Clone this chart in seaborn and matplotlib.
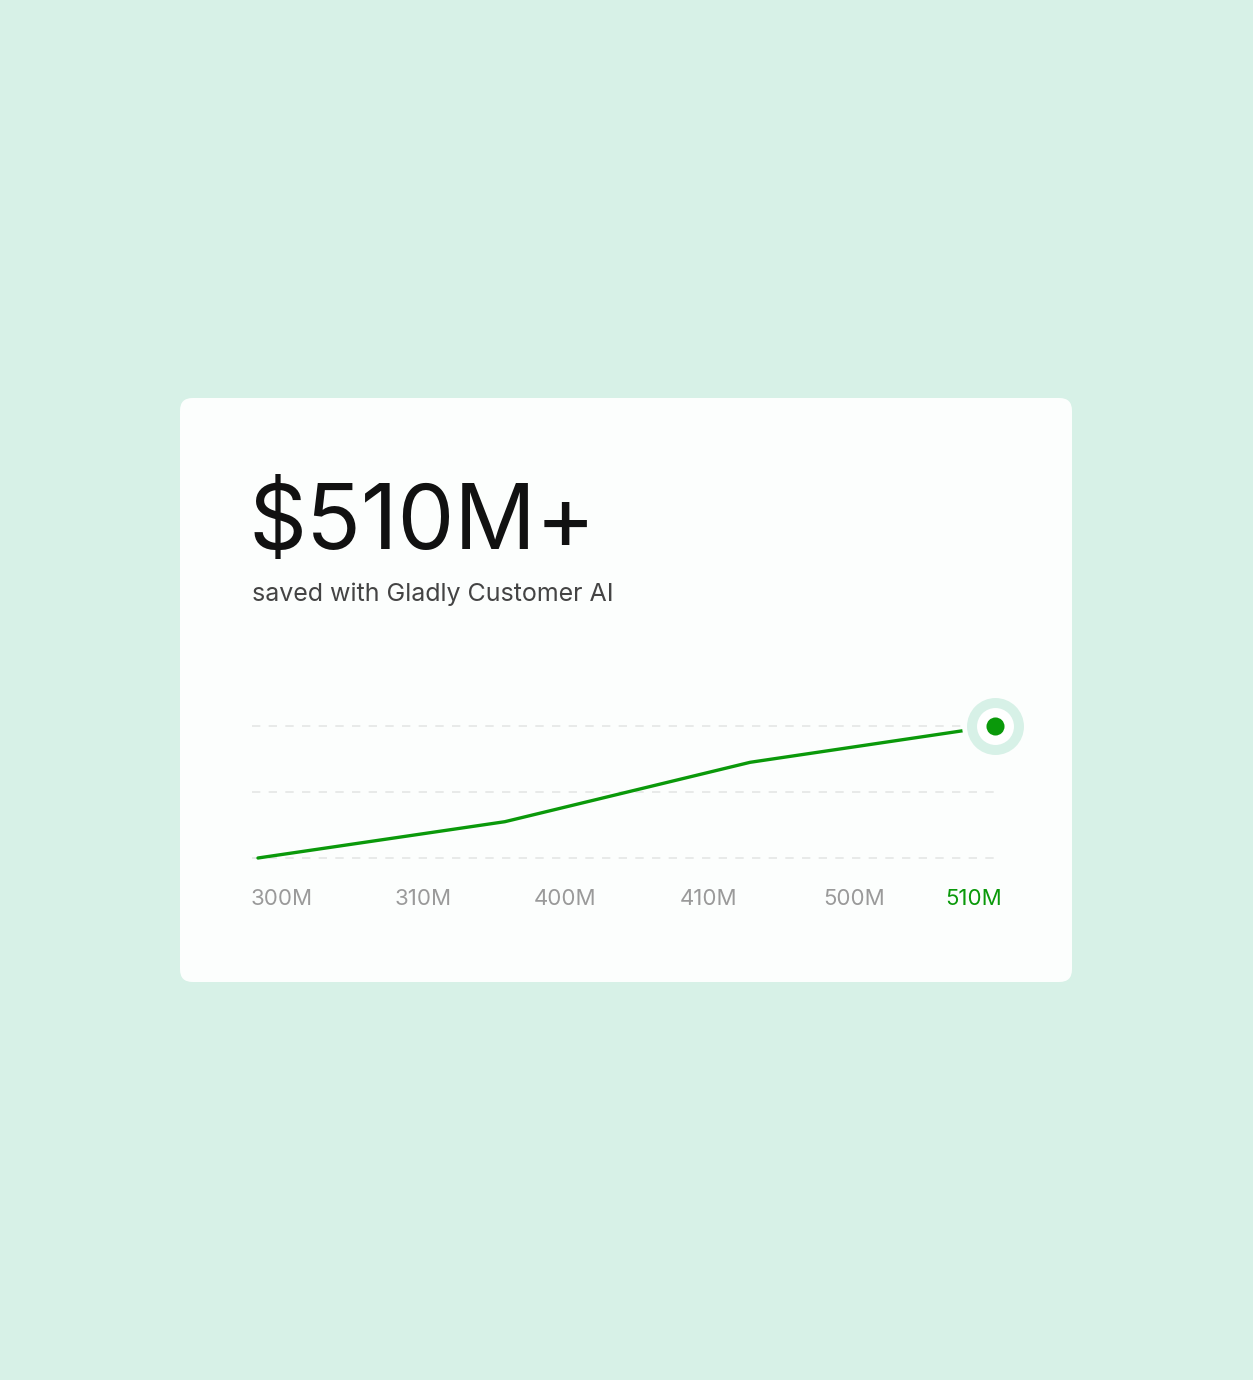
import matplotlib
matplotlib.use("Agg")
import matplotlib.pyplot as plt
from matplotlib.patches import FancyBboxPatch
import seaborn as sns
import pandas as pd

# data
progress = [0.008, 0.338, 0.666, 0.993]
savings = [0.0, 0.55, 1.45, 2.0]
tick_labels = ["300M", "310M", "400M", "410M", "500M", "510M"]
tick_pos = [0.040, 0.229, 0.419, 0.611, 0.805, 0.965]
headline = "$510M+"
subtitle = "saved with Gladly Customer AI"

bg = "#d7f1e7"
green = "#0a990a"

sns.set_theme(style="white")
plt.rcParams["font.family"] = ["Inter", "DejaVu Sans"]

W, H = 1253, 1380
fig = plt.figure(figsize=(W / 100, H / 100), dpi=100, facecolor=bg)

# white card
card = FancyBboxPatch((180 / W, (H - 982) / H), 892 / W, 584 / H,
                      boxstyle="round,pad=0,rounding_size=0.01",
                      transform=fig.transFigure, facecolor="#fcfefd",
                      edgecolor="none", mutation_aspect=W / H, zorder=-5)
fig.patches.append(card)

fig.text(249 / W, (H - 549) / H, headline, fontsize=65, color="#111111",
         va="baseline", ha="left", fontweight="normal")
fig.text(252 / W, (H - 594) / H, subtitle, fontsize=18, color="#444444",
         va="center", ha="left")

ax = fig.add_axes([252 / W, (H - 858) / H, 748 / W, 132 / H])
ax.set_zorder(3)
ax.set_facecolor("none")
ax.set_xlim(0, 1)
ax.set_ylim(0, 2)
for y in [0, 1, 2]:
    ax.axhline(y, color="#e4e6e5", lw=1.2, ls=(0, (5, 5)), zorder=1,
               clip_on=False)

df = pd.DataFrame({"x": progress, "y": savings})
sns.lineplot(data=df, x="x", y="y", ax=ax, color=green, lw=2.4,
             zorder=3, clip_on=False)

ex, ey = progress[-1], savings[-1]
ax.scatter([ex], [ey], s=48 ** 2, color="#fcfefd", zorder=4, clip_on=False,
           linewidths=0)
ax.scatter([ex], [ey], s=41 ** 2, color=bg, zorder=5, clip_on=False,
           linewidths=0)
ax.scatter([ex], [ey], s=26.6 ** 2, color="white", zorder=6, clip_on=False,
           linewidths=0)
ax.scatter([ex], [ey], s=13 ** 2, color=green, zorder=7, clip_on=False,
           linewidths=0)

ax.set_xticks(tick_pos)
ax.set_xticklabels(tick_labels)
ax.set_yticks([])
ax.set_xlabel("")
ax.set_ylabel("")
ax.tick_params(axis="x", length=0, pad=22, labelsize=16, labelcolor="#9a9a9a")
ax.get_xticklabels()[-1].set_color(green)
for s in ax.spines.values():
    s.set_visible(False)

fig.savefig("out.png", dpi=100, facecolor=bg)
